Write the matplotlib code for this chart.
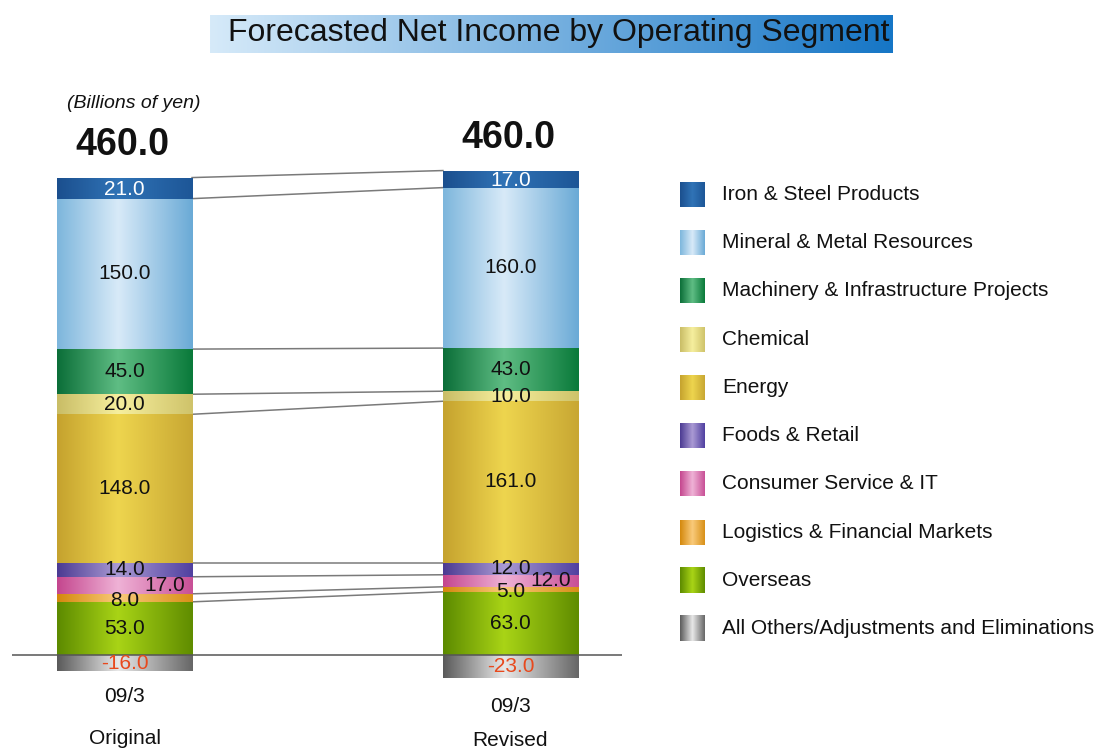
import numpy as np
import matplotlib
matplotlib.use("Agg")
import matplotlib.pyplot as plt
from matplotlib.colors import to_rgb
from matplotlib import transforms

plt.rcParams['font.family'] = ['Liberation Sans', 'DejaVu Sans']

# ---------------- data ----------------
segments = ["Iron & Steel Products", "Mineral & Metal Resources",
            "Machinery & Infrastructure Projects", "Chemical", "Energy",
            "Foods & Retail", "Consumer Service & IT",
            "Logistics & Financial Markets", "Overseas",
            "All Others/Adjustments and Eliminations"]
original = [21.0, 150.0, 45.0, 20.0, 148.0, 14.0, 17.0, 8.0, 53.0, -16.0]
revised = [17.0, 160.0, 43.0, 10.0, 161.0, 12.0, 12.0, 5.0, 63.0, -23.0]
totals = [460.0, 460.0]
periods = ["09/3", "09/3"]
scenarios = ["Original", "Revised"]

# gradient stops (left edge, centre, right edge)
grads = [
    ('#1b4f8e', '#3073b6', '#1d5697'),
    ('#7db6dc', '#d8eaf8', '#6aaad6'),
    ('#0b6e38', '#5fbd84', '#0a7a3a'),
    ('#c9bd66', '#f6ef9e', '#cfc36a'),
    ('#c5a22e', '#eed54e', '#c8a733'),
    ('#4b3a92', '#aa9ad4', '#5040a0'),
    ('#c4468e', '#efb2d6', '#c85096'),
    ('#d4880c', '#f9ca7a', '#d89018'),
    ('#5c8a00', '#a9d416', '#5f8c00'),
    ('#5a5a5a', '#e8e8e8', '#666666'),
]
label_colors = ['white'] + ['#111111'] * 8 + ['#e8491d']


def gradient_row(stops, n=256, mid=0.45):
    l, c, r = [np.array(to_rgb(s)) for s in stops]
    t = np.linspace(0, 1, n)
    out = np.zeros((1, n, 3))
    for i, tt in enumerate(t):
        if tt <= mid:
            f = tt / mid
            out[0, i] = l * (1 - f) + c * f
        else:
            f = (tt - mid) / (1 - mid)
            out[0, i] = c * (1 - f) + r * f
    return out


W, H = 1104, 751
fig = plt.figure(figsize=(W / 100, H / 100), dpi=100)

# ---------------- title ----------------
tax = fig.add_axes([210 / W, 1 - 53 / H, (893 - 210) / W, 38 / H])
tl = np.array(to_rgb('#d6eaf9'))
tr = np.array(to_rgb('#1676c6'))
tt = np.linspace(0, 1, 256)[None, :, None]
tax.imshow(tl * (1 - tt) + tr * tt, aspect='auto', extent=[0, 1, 0, 1])
tax.set_axis_off()
fig.text(559 / W, 1 - 33 / H, "Forecasted Net Income by Operating Segment",
         ha='center', va='center', fontsize=23, color='#111111')

fig.text(134 / W, 1 - 103 / H, "(Billions of yen)", ha='center', va='center',
         fontsize=14, style='italic', color='#111111')

# ---------------- bars ----------------
ax_l, ax_r, ax_t, ax_b = 12, 622, 100, 700
ax = fig.add_axes([ax_l / W, 1 - ax_b / H, (ax_r - ax_l) / W, (ax_b - ax_t) / H])
scale = 1.003
ax.set_axis_off()

xs = [0.0, 1.0]
bw = 0.35
label_dx = {6: 0.105}
label_dy = {5: 0.0, 7: -2.5, 0: -1.5}

bounds_all = []
for xi, vals in zip(xs, [original, revised]):
    bottoms = [0.0] * len(vals)
    cum = 0.0
    for i in range(len(vals) - 2, -1, -1):
        bottoms[i] = cum
        cum += vals[i]
    bottoms[-1] = 0.0
    bounds_all.append([bottoms[i] + vals[i] for i in range(len(vals) - 1)])
    for i, v in enumerate(vals):
        bars = ax.bar(xi, v, bottom=bottoms[i], width=bw, color=grads[i][1],
                      edgecolor='none', zorder=2)
        patch = bars.patches[0]
        lo, hi = sorted([bottoms[i], bottoms[i] + v])
        im = ax.imshow(gradient_row(grads[i]), aspect='auto', interpolation='bilinear',
                       extent=[xi - bw / 2, xi + bw / 2, lo, hi], zorder=2)
        im.set_clip_path(patch)
        cy = bottoms[i] + v / 2 + label_dy.get(i, 0.0)
        ax.text(xi + label_dx.get(i, 0.0), cy, f"{v:.1f}", ha='center', va='center',
                fontsize=15, color=label_colors[i], zorder=4)
    top = sum(v for v in vals if v > 0)
    ax.text(xi - 0.005, top + 32, f"{totals[xs.index(xi)]:.1f}", ha='center',
            va='center', fontsize=27, fontweight='bold', color='#111111')

# connector lines
for b0, b1 in zip(bounds_all[0], bounds_all[1]):
    ax.plot([xs[0] + bw / 2, xs[1] - bw / 2], [b0, b1], color='#7a7a7a',
            lw=1.1, zorder=1)

ax.axhline(0, color='#555555', lw=1.1, zorder=3)

ax.set_xlim(-0.2915, 1.289)
ax.set_ylim(-(ax_b - 655) / scale, (655 - ax_t) / scale)

blend = transforms.blended_transform_factory(ax.transData, fig.transFigure)
per_y = [696, 706]
sc_y = [738, 740]
for xi, p, s, py, sy in zip(xs, periods, scenarios, per_y, sc_y):
    ax.text(xi, 1 - py / H, p, transform=blend, ha='center', va='center',
            fontsize=15, color='#111111')
    ax.text(xi, 1 - sy / H, s, transform=blend, ha='center', va='center',
            fontsize=15, color='#111111')

# ---------------- legend ----------------
lt, lb = 170.5, 652.5
lax = fig.add_axes([670 / W, 1 - lb / H, (W - 670) / W, (lb - lt) / H])
sq_w = 25 / (W - 670)
sq_h = 25 / ((lb - lt) / len(segments))
for i, name in enumerate(segments):
    x0 = 10 / (W - 670)
    lax.imshow(gradient_row(grads[i], mid=0.5), aspect='auto', interpolation='bilinear',
               extent=[x0, x0 + sq_w, i + sq_h / 2, i - sq_h / 2])
    lax.text(52 / (W - 670), i, name, ha='left', va='center', fontsize=15,
             color='#111111')
lax.set_xlim(0, 1)
lax.set_ylim(len(segments) - 0.5, -0.5)
lax.set_axis_off()

fig.savefig("out.png", dpi=100)
